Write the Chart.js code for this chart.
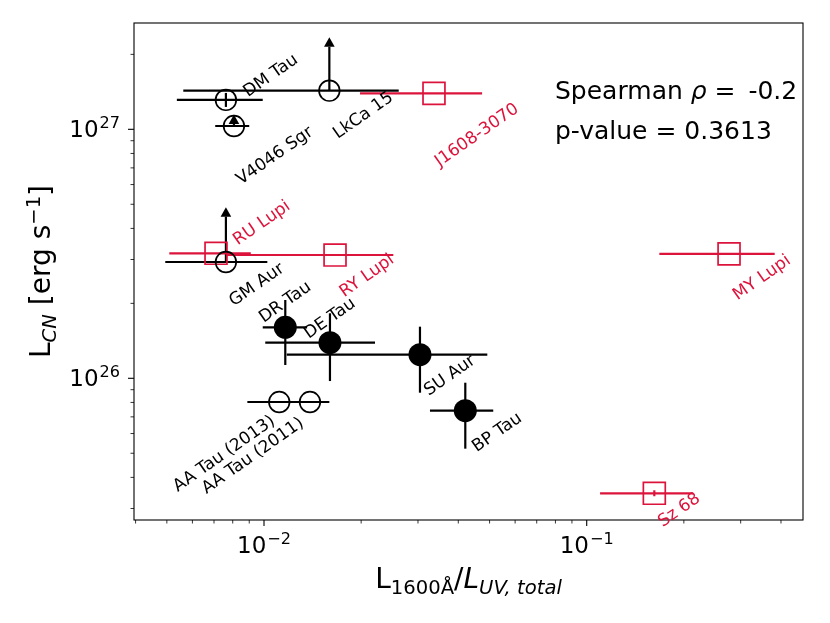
<!DOCTYPE html>
<html><head><meta charset="utf-8">
<script src="https://cdn.jsdelivr.net/npm/chart.js@4/dist/chart.umd.min.js"></script>
<style>html,body{margin:0;padding:0;background:#fff;}canvas{display:block;}</style>
</head><body>
<canvas id="c" width="830" height="623"></canvas>
<script>
// ---- data ----
const names = ['DM Tau','LkCa 15','V4046 Sgr','GM Aur','AA Tau (2013)','AA Tau (2011)','DR Tau','DE Tau','SU Aur','BP Tau','J1608-3070','RU Lupi','RY Lupi','MY Lupi','Sz 68'];
const sampleType = ['open','open','open','open','open','open','filled','filled','filled','filled','red','red','red','red','red'];
const ratioX     = [0.00762, 0.01594, 0.00807, 0.00762, 0.01115, 0.01388, 0.01164, 0.01601, 0.03043, 0.04205, 0.03363, 0.00710, 0.0166, 0.2761, 0.1620];
const ratioXLow  = [0.00537, 0.005622,0.00706, 0.004944,0.00888, 0.01210, 0.00991, 0.01009, 0.01176, 0.03268, 0.01984, 0.005088,0.00766,0.1679, 0.1100];
const ratioXHigh = [0.00991, 0.02615, 0.00900, 0.01024, 0.0140,  0.01594, 0.0136,  0.02208, 0.0492,  0.05133, 0.0474,  0.00910, 0.02516,0.3824, 0.2139];
const lumCN      = [1.312e27, 1.429e27, 1.031e27, 2.931e26, 8.03e25, 8.03e25, 1.602e26, 1.390e26, 1.244e26, 7.413e25, 1.395e27, 3.177e26, 3.127e26, 3.16e26, 3.453e25];
const lumCNLow   = [1.23e27, null, null, null, null, null, 1.131e26, 9.75e25, 8.753e25, 5.216e25, null, null, null, null, 3.36e25];
const lumCNHigh  = [1.40e27, null, null, null, null, null, 2.063e26, 1.824e26, 1.612e26, 9.60e25, null, null, null, null, 3.55e25];
const lumCNLowerLimit = [null, 2.146e27, 1.05e27, 4.46e26, null, null, null, null, null, null, null, null, null, null, null];
const xTickValues = [0.01, 0.1];
const yTickValues = [1e26, 1e27];
const spearmanRho = '-0.2';
const pValue = '0.3613';

// ---- layout / style (not data) ----
const labelOffsets = [[45,-24],[34,25],[41,30],[31,23],[-55,52],[-57,54],[0,-25],[0,-24],[30,21],[32,22],[43,42],[46,-30],[32,21],[33,24],[25,17]];
const RED = '#DC143C';
const FONT = '"DejaVu Sans", sans-serif';
const colorOf = t => t === 'red' ? RED : '#000';

function makeDataset(kind) {
  const idx = names.map((n, i) => i).filter(i => sampleType[i] === kind);
  const r = kind === 'red' ? 15.5 : (kind === 'filled' ? 11.5 : 10.3);
  return {
    label: kind,
    data: idx.map(i => ({x: ratioX[i], y: lumCN[i]})),
    pointStyle: kind === 'red' ? 'rect' : 'circle',
    pointRadius: r,
    pointHoverRadius: r,
    backgroundColor: kind === 'filled' ? '#000' : 'rgba(0,0,0,0)',
    borderColor: colorOf(kind),
    pointBorderWidth: kind === 'filled' ? 0 : 1.7,
    borderWidth: kind === 'filled' ? 0 : 1.7,
    showLine: false
  };
}

function richText(ctx, segs, x, y, align) {
  let total = 0;
  segs.forEach(s => { ctx.font = (s.it ? 'italic ' : '') + s.size + 'px ' + FONT; s.w = ctx.measureText(s.t).width + (s.gap || 0); total += s.w; });
  let cx = align === 'center' ? x - total / 2 : (align === 'right' ? x - total : x);
  ctx.textAlign = 'left'; ctx.textBaseline = 'alphabetic';
  segs.forEach(s => { ctx.font = (s.it ? 'italic ' : '') + s.size + 'px ' + FONT; ctx.fillText(s.t, cx, y + (s.dy || 0)); cx += s.w; });
}
function powLabel(v, size) {
  const e = Math.round(Math.log10(v));
  const sup = e < 0 ? '\u2212' + (-e) : String(e);
  return [{t: '10', size: size, gap: 1}, {t: sup, size: size * 0.7, dy: -size * 0.37}];
}

const errorBars = {
  id: 'errorBars',
  beforeDatasetsDraw(chart) {
    const ctx = chart.ctx, xs = chart.scales.x, ys = chart.scales.y;
    ctx.save();
    names.forEach((n, i) => {
      const col = colorOf(sampleType[i]);
      const px = xs.getPixelForValue(ratioX[i]), py = ys.getPixelForValue(lumCN[i]);
      ctx.strokeStyle = col; ctx.fillStyle = col; ctx.lineWidth = 2.2; ctx.lineCap = 'butt';
      ctx.beginPath();
      ctx.moveTo(xs.getPixelForValue(ratioXLow[i]), py);
      ctx.lineTo(xs.getPixelForValue(ratioXHigh[i]), py);
      ctx.stroke();
      if (lumCNLow[i] != null) {
        ctx.beginPath();
        ctx.moveTo(px, ys.getPixelForValue(lumCNLow[i]));
        ctx.lineTo(px, ys.getPixelForValue(lumCNHigh[i]));
        ctx.stroke();
      }
      if (lumCNLowerLimit[i] != null) {
        const ly = ys.getPixelForValue(lumCNLowerLimit[i]);
        ctx.beginPath(); ctx.moveTo(px, py); ctx.lineTo(px, ly); ctx.stroke();
        ctx.beginPath(); ctx.moveTo(px - 5.3, ly); ctx.lineTo(px + 5.3, ly); ctx.lineTo(px, ly - 9.5); ctx.closePath(); ctx.fill();
      }
    });
    ctx.restore();
  },
  afterDatasetsDraw(chart) {
    const ctx = chart.ctx, a = chart.chartArea;
    ctx.save();
    ctx.strokeStyle = '#000'; ctx.lineWidth = 1.1;
    ctx.strokeRect(a.left, a.top, a.right - a.left, a.bottom - a.top);
    ctx.restore();
  },
  afterDraw(chart) {
    const ctx = chart.ctx, xs = chart.scales.x, ys = chart.scales.y, a = chart.chartArea;
    ctx.save();
    ctx.strokeStyle = '#000'; ctx.fillStyle = '#000';
    for (let e = Math.floor(Math.log10(xs.min)); e <= Math.ceil(Math.log10(xs.max)); e++) {
      for (let m = 1; m <= 9; m++) {
        const v = m * Math.pow(10, e);
        if (v < xs.min || v > xs.max) continue;
        const p = xs.getPixelForValue(v), major = m === 1;
        ctx.lineWidth = major ? 1.1 : 0.8;
        ctx.beginPath(); ctx.moveTo(p, a.bottom); ctx.lineTo(p, a.bottom + (major ? 6 : 3.5)); ctx.stroke();
      }
    }
    for (let e = Math.floor(Math.log10(ys.min)); e <= Math.ceil(Math.log10(ys.max)); e++) {
      for (let m = 1; m <= 9; m++) {
        const v = m * Math.pow(10, e);
        if (v < ys.min || v > ys.max) continue;
        const p = ys.getPixelForValue(v), major = m === 1;
        ctx.lineWidth = major ? 1.1 : 0.8;
        ctx.beginPath(); ctx.moveTo(a.left, p); ctx.lineTo(a.left - (major ? 6 : 3.5), p); ctx.stroke();
      }
    }
    xTickValues.forEach(v => richText(ctx, powLabel(v, 23), xs.getPixelForValue(v), a.bottom + 33, 'center'));
    yTickValues.forEach(v => richText(ctx, powLabel(v, 23), a.left - 14, ys.getPixelForValue(v) + 7.5, 'right'));
    richText(ctx, [{t: 'L', size: 28}, {t: '1600\u00C5', size: 19.6, dy: 6}, {t: '/', size: 28}, {t: 'L', size: 28, it: true}, {t: 'UV, total', size: 19.6, it: true, dy: 6}],
      (a.left + a.right) / 2, 588, 'center');
    ctx.save();
    ctx.translate(50, (a.top + a.bottom) / 2);
    ctx.rotate(-Math.PI / 2);
    richText(ctx, [{t: 'L', size: 28}, {t: 'CN', size: 19.6, it: true, dy: 6}, {t: ' [erg s', size: 28}, {t: '\u22121', size: 19.6, dy: -10.5}, {t: ']', size: 28}], 0, 0, 'center');
    ctx.restore();
    names.forEach((n, i) => {
      const px = xs.getPixelForValue(ratioX[i]) + labelOffsets[i][0];
      const py = ys.getPixelForValue(lumCN[i]) + labelOffsets[i][1];
      ctx.save();
      ctx.translate(px, py); ctx.rotate(-35 * Math.PI / 180);
      ctx.fillStyle = colorOf(sampleType[i]);
      ctx.font = '17px ' + FONT; ctx.textAlign = 'center'; ctx.textBaseline = 'middle';
      ctx.fillText(n, 0, 0);
      ctx.restore();
    });
    ctx.fillStyle = '#000';
    richText(ctx, [{t: 'Spearman ', size: 25}, {t: '\u03C1', size: 25, it: true}, {t: ' = \u2009' + spearmanRho, size: 25}], 555, 99, 'left');
    richText(ctx, [{t: 'p-value = ' + pValue, size: 25}], 555, 139, 'left');
    ctx.restore();
  }
};

new Chart(document.getElementById('c'), {
  type: 'scatter',
  data: { datasets: [makeDataset('open'), makeDataset('filled'), makeDataset('red')] },
  options: {
    responsive: false, animation: false, devicePixelRatio: 1,
    layout: { padding: { left: 134, right: 27, top: 23, bottom: 103 } },
    plugins: { legend: { display: false }, tooltip: { enabled: false } },
    scales: {
      x: { type: 'logarithmic', min: 0.003955, max: 0.468, display: false },
      y: { type: 'logarithmic', min: 2.697e25, max: 2.673e27, display: false }
    }
  },
  plugins: [errorBars]
});
</script>
</body></html>
